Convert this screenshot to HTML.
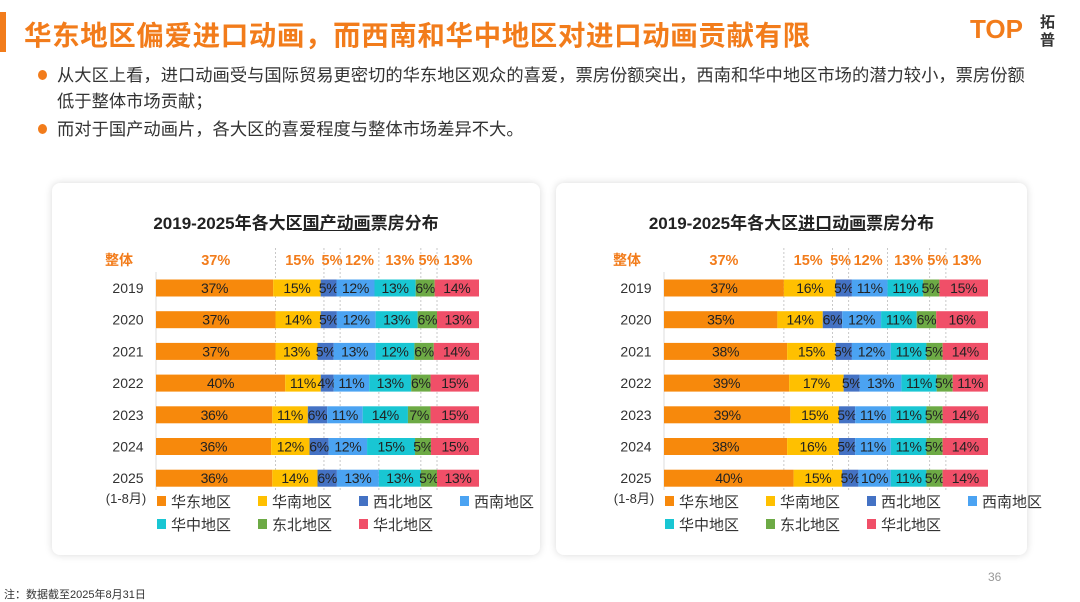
<!DOCTYPE html>
<html><head><meta charset="utf-8">
<style>
body{margin:0;width:1080px;height:601px;background:#fff;font-family:"Liberation Sans","Noto Sans CJK SC",sans-serif;position:relative;overflow:hidden}
.abs{position:absolute}
.card{position:absolute;background:#fff;border-radius:8px;box-shadow:0 0 8px rgba(0,0,0,0.15)}
</style></head><body>
<div class="abs" style="left:0;top:12px;width:6px;height:40px;background:#F27C1B"></div>
<div class="abs" style="left:24px;top:13px;font-size:27.5px;font-weight:bold;color:#F27C1B;letter-spacing:0.6px">华东地区偏爱进口动画，而西南和华中地区对进口动画贡献有限</div>
<div class="abs" style="left:970px;top:14px;font-size:26px;font-weight:bold;color:#F27C1B">TOP</div>
<div class="abs" style="left:1040px;top:14px;width:20px;font-size:15px;font-weight:bold;line-height:18px;color:#333">拓普</div>
<div class="abs" style="left:38px;top:62px;width:1040px;font-size:17.3px;color:#333;line-height:26px">
<div style="padding-left:19px;position:relative"><span style="position:absolute;left:0;top:8px;width:9px;height:10px;border-radius:50%;background:#F27C1B"></span>从大区上看，进口动画受与国际贸易更密切的华东地区观众的喜爱，票房份额突出，西南和华中地区市场的潜力较小，票房份额<br>低于整体市场贡献；</div>
<div style="padding-left:19px;position:relative;margin-top:2px"><span style="position:absolute;left:0;top:8px;width:9px;height:10px;border-radius:50%;background:#F27C1B"></span>而对于国产动画片，各大区的喜爱程度与整体市场差异不大。</div>
</div>
<div class="card" style="left:52px;top:183px;width:488px;height:372px"></div>
<div class="card" style="left:556px;top:183px;width:471px;height:372px"></div>
<div class="abs" style="left:52px;top:209px;width:488px;text-align:center;font-size:17px;font-weight:bold;color:#222">2019-2025年各大区<u>国产动画</u>票房分布</div>
<div class="abs" style="left:556px;top:209px;width:471px;text-align:center;font-size:17px;font-weight:bold;color:#222">2019-2025年各大区<u>进口动画</u>票房分布</div>
<svg class="abs" style="left:0;top:0" width="1080" height="601" id="svg"></svg>
<div class="abs" style="left:988px;top:570px;font-size:12px;color:#999">36</div>
<div class="abs" style="left:4px;top:586px;font-size:11px;color:#333">注：数据截至2025年8月31日</div>
<script>
const years=["2019","2020","2021","2022","2023","2024","2025"];
const regions=["华东地区","华南地区","西北地区","西南地区","华中地区","东北地区","华北地区"];
const overallDomestic=[37,15,5,12,13,5,13];
const overallImport=[37,15,5,12,13,5,13];
const domestic=[[37,15,5,12,13,6,14],[37,14,5,12,13,6,13],[37,13,5,13,12,6,14],[40,11,4,11,13,6,15],[36,11,6,11,14,7,15],[36,12,6,12,15,5,15],[36,14,6,13,13,5,13]];
const imported=[[37,16,5,11,11,5,15],[35,14,6,12,11,6,16],[38,15,5,12,11,5,14],[39,17,5,13,11,5,11],[39,15,5,11,11,5,14],[38,16,5,11,11,5,14],[40,15,5,10,11,5,14]];
const colors=["#F7890C","#FFC000","#4472C4","#4BA3F2","#19C6D3","#6DAA45","#F04F68"];
const NS="http://www.w3.org/2000/svg";
const svg=document.getElementById('svg');
function mk(t,a,txt){const e=document.createElementNS(NS,t);for(const k in a)e.setAttribute(k,a[k]);if(txt!==undefined)e.textContent=txt;svg.appendChild(e);return e;}
function chart(x0,x1,overall,rows,key){
  const W=x1-x0;const y0=288,step=31.7,bh=17;
  const sx=(v,tot)=>x0+v/tot*W;
  const ot=overall.reduce((a,b)=>a+b,0);
  let c=0;
  const lab=mk('text',{x:x0-37,y:265,'font-size':14,fill:'#F27C1B','text-anchor':'middle','font-weight':'bold'},'整体');
  
  
  overall.forEach((v,i)=>{
    const a=sx(c,ot);c+=v;const b=sx(c,ot);
    const t=mk('text',{x:(a+b)/2,y:265,'font-size':14.5,'font-weight':'bold',fill:'#F27C1B','text-anchor':'middle'},v+'%');
    
    
    if(i<overall.length-1){const l=mk('line',{x1:b,x2:b,y1:248,y2:490,stroke:'#bbb','stroke-dasharray':'2,2','stroke-width':0.8});
    
    }
  });
  mk('line',{x1:x0,x2:x0,y1:272,y2:490,stroke:'#ddd'});
  rows.forEach((r,j)=>{
    const y=y0+j*step;const tot=r.reduce((a,b)=>a+b,0);let c2=0;
    const yl=mk('text',{x:x0-28,y:y+5,'font-size':14,fill:'#333','text-anchor':'middle'},years[j]);
    
    
    r.forEach((v,i)=>{
      const a=sx(c2,tot);c2+=v;const b=sx(c2,tot);
      const rc=mk('rect',{x:a,y:y-bh/2,width:b-a,height:bh,fill:colors[i]});
      
      
      const t=mk('text',{x:(a+b)/2,y:y+5,'font-size':14,fill:'#222','text-anchor':'middle','letter-spacing':'-0.3'},v+'%');
      
      
    });
  });
  const m=mk('text',{x:x0-30,y:503,'font-size':13,fill:'#333','text-anchor':'middle'},'(1-8月)');
  
  
  const lx=[0,101,202,303];
  regions.forEach((n,i)=>{
    const x=x0+1+lx[i%4],y=i<4?508:531;
    const r=mk('rect',{x:x,y:y-12,width:9,height:10,fill:colors[i]});
    
    
    const t=mk('text',{x:x+14,y:y-1,'font-size':15,fill:'#333'},n);
    
    
  });
}
chart(156,479,overallDomestic,domestic,'domestic');
chart(664,988,overallImport,imported,'import');
</script>
</body></html>
